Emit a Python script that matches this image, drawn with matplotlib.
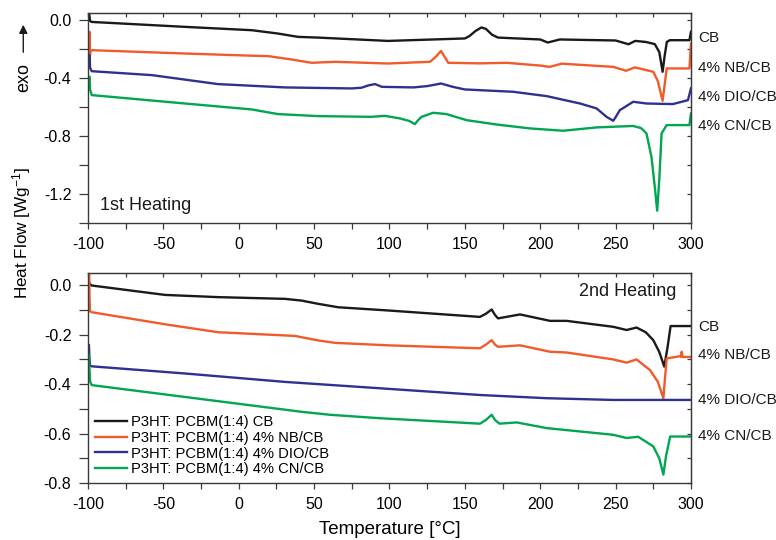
import matplotlib
matplotlib.use("Agg")
import matplotlib.pyplot as plt
from matplotlib.ticker import MultipleLocator, FixedLocator

plt.rcParams['font.family'] = ['Liberation Sans', 'DejaVu Sans']
plt.rcParams['mathtext.fontset'] = 'custom'
plt.rcParams['mathtext.rm'] = 'Liberation Sans'
plt.rcParams['mathtext.it'] = 'Liberation Sans:italic'
plt.rcParams['axes.unicode_minus'] = False

# ---------------- data: 1st heating ----------------
t1_cb = [-99.2, -98.7, -97.5, -35.6, 8.6, 26, 39.3, 52.6, 99, 150, 153, 157, 161, 164, 168, 172, 200, 205, 213,
         250, 258.6, 263, 270, 276, 279, 281.2, 282.5, 284, 286, 299, 300]
v1_cb = [0.045, -0.005, -0.012, -0.046, -0.069, -0.092, -0.115, -0.12, -0.143, -0.126, -0.11, -0.075, -0.05, -0.06, -0.10, -0.12,
         -0.133, -0.154, -0.133, -0.14, -0.166, -0.143, -0.15, -0.165, -0.22, -0.356, -0.25, -0.15, -0.138, -0.138, -0.08]

t1_nb = [-99.4, -99.0, -98.7, -98.3, -97.5, -35.6, 8.6, 19.6, 35, 48.4, 63.9, 99, 126.9, 131, 134.2, 137, 139, 160,
         177.7, 199.8, 206.4, 214.2, 248.4, 256.9, 262.8, 275, 278, 281.2, 282.5, 283.9, 299, 300]
v1_nb = [-0.22, -0.08, -0.24, -0.21, -0.207, -0.23, -0.245, -0.248, -0.271, -0.294, -0.287, -0.299, -0.287, -0.25, -0.212, -0.26, -0.294, -0.298,
         -0.294, -0.313, -0.322, -0.30, -0.322, -0.349, -0.326, -0.356, -0.42, -0.556, -0.45, -0.333, -0.333, -0.161]

t1_dio = [-99.4, -99.0, -98.6, -97.5, -57.7, -13.8, 30.7, 74.9, 81.5, 86, 90.4, 95, 115.8, 125, 134.2, 142, 150, 182,
          204.3, 226.4, 237.4, 244, 248.4, 250, 252.8, 261.7, 270.5, 288, 298, 300]
v1_dio = [-0.30, -0.24, -0.33, -0.352, -0.379, -0.441, -0.464, -0.471, -0.466, -0.45, -0.441, -0.46, -0.464, -0.455, -0.437, -0.46, -0.478, -0.494,
          -0.524, -0.575, -0.609, -0.667, -0.694, -0.67, -0.621, -0.563, -0.575, -0.579, -0.552, -0.471]

t1_cn = [-99.4, -99.0, -98.6, -97.5, -35.6, 8.6, 26, 52.6, 88, 96.8, 107, 113, 116.9, 119, 121.3, 129, 137.8, 151.2,
         171.1, 193.2, 215.3, 237.4, 261.7, 267, 270.5, 273.8, 276, 277.6, 279, 280.5, 283.9, 299, 300]
v1_cn = [-0.42, -0.39, -0.48, -0.517, -0.575, -0.616, -0.648, -0.662, -0.667, -0.66, -0.678, -0.695, -0.717, -0.69, -0.667, -0.639, -0.648, -0.69,
         -0.72, -0.747, -0.763, -0.74, -0.73, -0.745, -0.782, -0.943, -1.15, -1.315, -1.1, -0.782, -0.724, -0.724, -0.644]

# ---------------- data: 2nd heating ----------------
t2_cb = [-99.2, -98.8, -97.5, -48.9, -13.6, 30.7, 41.7, 52.6, 66, 99.2, 160, 164, 167.8, 170, 172, 186.6, 206.5, 217.5,
         248.4, 257.3, 263.9, 270, 275, 279, 282.3, 284.5, 286.5, 300]
v2_cb = [0.01, 0.005, -0.001, -0.039, -0.048, -0.055, -0.062, -0.075, -0.089, -0.102, -0.128, -0.115, -0.098, -0.12, -0.134, -0.118, -0.144, -0.144,
         -0.168, -0.181, -0.171, -0.19, -0.222, -0.27, -0.329, -0.25, -0.165, -0.165]

t2_nb = [-99.2, -99.0, -98.7, -97.5, -46.7, -13.6, 30.7, 37.3, 52.6, 63.9, 99, 160, 164, 167.8, 170, 172, 186.6, 206.5,
         217.5, 248.4, 257.3, 263.9, 272.8, 278, 281.7, 283, 283.9, 292.7, 293.5, 293.8, 294.5, 300]
v2_nb = [0.05, -0.05, -0.105, -0.109, -0.16, -0.19, -0.203, -0.205, -0.223, -0.233, -0.243, -0.255, -0.24, -0.222, -0.24, -0.249, -0.243, -0.269,
         -0.272, -0.30, -0.313, -0.30, -0.343, -0.39, -0.457, -0.36, -0.296, -0.287, -0.29, -0.269, -0.29, -0.29]

t2_dio = [-99.4, -99.0, -98.6, -97.5, -35.6, 30.7, 99, 160, 204.3, 248.4, 300]
v2_dio = [-0.242, -0.30, -0.325, -0.328, -0.357, -0.391, -0.419, -0.444, -0.457, -0.464, -0.464]

t2_cn = [-99.4, -99.0, -98.6, -97.5, -35.6, 41.7, 60.5, 93.7, 160, 164, 167.8, 170, 173, 184.4, 204.3, 248.4, 257.3,
         265, 275, 279, 281.7, 283.5, 286.2, 300]
v2_cn = [-0.282, -0.34, -0.39, -0.404, -0.452, -0.512, -0.524, -0.538, -0.56, -0.545, -0.524, -0.545, -0.56, -0.555, -0.578, -0.605, -0.618,
         -0.613, -0.652, -0.70, -0.766, -0.69, -0.612, -0.612]

series_names = ['CB', '4% NB/CB', '4% DIO/CB', '4% CN/CB']
legend_labels = ['P3HT: PCBM(1:4) CB', 'P3HT: PCBM(1:4) 4% NB/CB',
                 'P3HT: PCBM(1:4) 4% DIO/CB', 'P3HT: PCBM(1:4) 4% CN/CB']
right_label_y1 = [-0.124, -0.331, -0.531, -0.731]
right_label_y2 = [-0.169, -0.282, -0.464, -0.609]
x_ticks = [-100, -50, 0, 50, 100, 150, 200, 250, 300]

colors = ['#1a1a1a', '#f15a29', '#2e3192', '#00a651']
spine_col = '#3a3a3a'

fig = plt.figure(figsize=(7.76, 5.40), dpi=100)
ax1 = fig.add_axes([0.1134, 0.587, 0.777, 0.389])
ax2 = fig.add_axes([0.1134, 0.1056, 0.777, 0.389])

data1 = [(t1_cb, v1_cb), (t1_nb, v1_nb), (t1_dio, v1_dio), (t1_cn, v1_cn)]
data2 = [(t2_cb, v2_cb), (t2_nb, v2_nb), (t2_dio, v2_dio), (t2_cn, v2_cn)]

lines = []
for (t, v), c in zip(data1, colors):
    ax1.plot(t, v, color=c, lw=1.7, solid_joinstyle='round')
for (t, v), c, lab in zip(data2, colors, legend_labels):
    l, = ax2.plot(t, v, color=c, lw=1.7, solid_joinstyle='round', label=lab)
    lines.append(l)

def style(ax, ylim, ymaj, ymin):
    ax.set_xlim(-100, 300)
    ax.set_ylim(*ylim)
    ax.xaxis.set_major_locator(FixedLocator(x_ticks))
    ax.xaxis.set_minor_locator(MultipleLocator(25))
    ax.yaxis.set_major_locator(MultipleLocator(ymaj))
    ax.yaxis.set_minor_locator(MultipleLocator(ymin))
    ax.yaxis.set_major_formatter(matplotlib.ticker.FormatStrFormatter('%.1f'))
    for s in ax.spines.values():
        s.set_color(spine_col)
        s.set_linewidth(1.0)
    ax.tick_params(axis='y', which='both', direction='out', length=6.5, width=0.9,
                   color=spine_col, labelsize=11.5, pad=5.5)
    ax.tick_params(axis='x', which='both', direction='out', length=4.3, width=0.9,
                   color=spine_col, labelsize=11.5, pad=6)
    sx = ax.secondary_xaxis('top')
    sx.xaxis.set_major_locator(FixedLocator(x_ticks))
    sx.xaxis.set_minor_locator(MultipleLocator(25))
    sx.tick_params(which='both', direction='in', length=3, width=0.9, color=spine_col, labeltop=False)
    sx.spines['top'].set_color(spine_col)
    sy = ax.secondary_yaxis('right')
    sy.yaxis.set_major_locator(MultipleLocator(ymaj))
    sy.yaxis.set_minor_locator(MultipleLocator(ymin))
    sy.tick_params(which='both', direction='in', length=3, width=0.9, color=spine_col, labelright=False)
    sy.spines['right'].set_color(spine_col)

style(ax1, (-1.4, 0.05), 0.4, 0.2)
style(ax2, (-0.8, 0.05), 0.2, 0.1)

for name, y in zip(series_names, right_label_y1):
    ax1.text(1.012, y, name, transform=ax1.get_yaxis_transform(), fontsize=11,
             ha='left', va='center', color='#1a1a1a')
for name, y in zip(series_names, right_label_y2):
    ax2.text(1.012, y, name, transform=ax2.get_yaxis_transform(), fontsize=11,
             ha='left', va='center', color='#1a1a1a')

ax1.text(0.02, 0.085, '1st Heating', transform=ax1.transAxes, fontsize=13,
         ha='left', va='center', color='#1a1a1a')
ax2.text(0.975, 0.91, '2nd Heating', transform=ax2.transAxes, fontsize=13,
         ha='right', va='center', color='#1a1a1a')

ax2.legend(handles=lines, loc='lower left', bbox_to_anchor=(0.0, 0.0), frameon=False,
           fontsize=10.6, handlelength=2.2, handletextpad=0.3, labelspacing=0.12,
           borderpad=0.35, borderaxespad=0.1)

ax2.set_xlabel('Temperature [°C]', fontsize=13.5, labelpad=6)
fig.text(0.028, 1 - 233 / 540, 'Heat Flow [Wg$^{-1}$]', rotation=90, fontsize=12.3,
         ha='center', va='center')
fig.text(0.030, 1 - 77 / 540, 'exo', rotation=90, fontsize=13, ha='center', va='center')
fig.add_artist(matplotlib.patches.FancyArrowPatch(
    (0.030, 1 - 55 / 540), (0.030, 1 - 22 / 540), transform=fig.transFigure,
    arrowstyle='-|>,head_length=5,head_width=2.5', color='#1a1a1a', lw=1.0))

fig.savefig('out.png', dpi=100)
